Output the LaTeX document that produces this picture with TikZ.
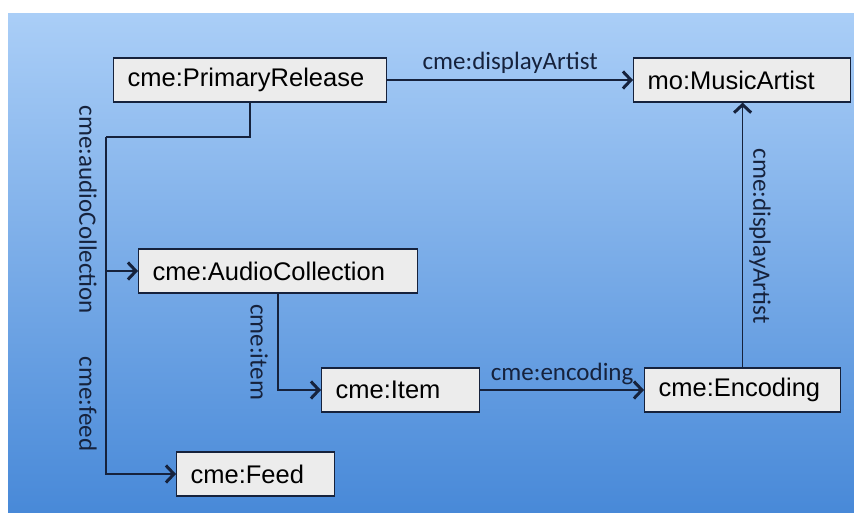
\documentclass[tikz,border=0pt]{standalone}
\usepackage{fontspec}
\setmainfont{Liberation Sans}
\newfontfamily\labelfont{Carlito}
\usetikzlibrary{arrows.meta,positioning}
\definecolor{skytop}{RGB}{170,206,247}
\definecolor{skybottom}{RGB}{72,137,216}
\definecolor{boxgray}{RGB}{236,236,236}
\definecolor{linknavy}{RGB}{22,34,60}
\tikzset{
  classbox/.style={draw=linknavy, line width=1.2pt, fill=boxgray, anchor=west,
    minimum height=44pt, inner xsep=14pt, inner ysep=0pt, align=left,
    font=\fontsize{25.5}{28}\selectfont, text=black},
  propline/.style={draw=linknavy, line width=1.5pt,
    -{Straight Barb[length=8pt,width=17pt,line width=3pt]}},
  plainline/.style={draw=linknavy, line width=1.5pt},
  proplabel/.style={font=\labelfont\fontsize{25}{28}\selectfont, text=linknavy, inner sep=2pt}
}
\begin{document}
\begin{tikzpicture}[x=1pt,y=-1pt]
  \useasboundingbox (0,0) rectangle (854,513);
  \shade[top color=skytop, bottom color=skybottom] (8,14) rectangle (854,513);

  % classes
  \node[classbox, text width=245pt] (release) at (113,80) {cme:PrimaryRelease};
  \node[classbox, text width=189pt] (artist) at (633,80) {mo:MusicArtist};
  \node[classbox, text width=251pt] (collection) at (138,271) {cme:AudioCollection};
  \node[classbox, text width=130pt] (item) at (321,390) {cme:Item};
  \node[classbox, text width=168pt] (encoding) at (644,390) {cme:Encoding};
  \node[classbox, text width=130pt] (feed) at (176,474) {cme:Feed};

  % properties
  \draw[propline] (release.east) -- node[proplabel, above=4pt] (lbltop) {cme:displayArtist} (artist.west);
  \coordinate (trunk) at (106,137);
  \draw[plainline] (release.south) |- (trunk);
  \draw[propline] (trunk) |- (feed.west);
  \draw[propline] (trunk |- collection.west) -- (collection.west);
  \draw[propline] (collection.south) |- (item.west);
  \draw[propline] (item.east) -- node[proplabel, above=2pt] (lblenc) {cme:encoding} (encoding.west);
  \draw[propline] (encoding.north) -- (encoding.north |- artist.south);

  \node[proplabel, rotate=-90] (lblcoll) at (88,210) {cme:audioCollection};
  \node[proplabel, rotate=-90] (lblfeed) at (88,404) {cme:feed};
  \node[proplabel, rotate=-90] (lblitem) at (259,352) {cme:item};
  \node[proplabel, rotate=-90] (lblright) at (760,236) {cme:displayArtist};
\end{tikzpicture}
\end{document}
